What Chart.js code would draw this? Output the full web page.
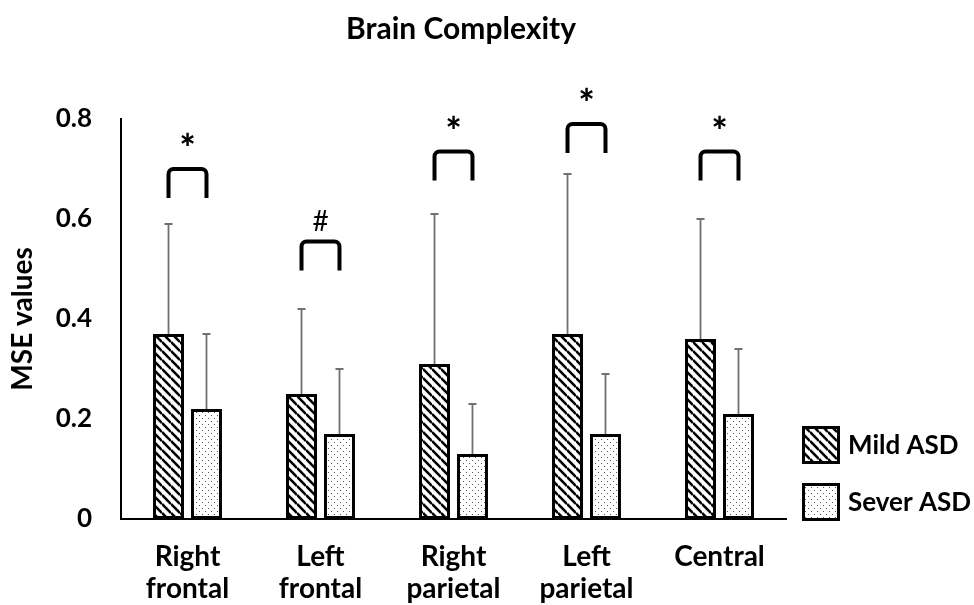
<!DOCTYPE html>
<html>
<head>
<meta charset="utf-8">
<script src="https://cdn.jsdelivr.net/npm/chart.js@4"></script>
<style>
  html, body { margin: 0; padding: 0; background: #fff; }
  #wrap { width: 974px; height: 605px; }
</style>
</head>
<body>
<div id="wrap"><canvas id="chart" width="974" height="605"></canvas></div>
<script>
// data
const categories = [["Right", "frontal"], ["Left", "frontal"], ["Right", "parietal"], ["Left", "parietal"], ["Central"]];
const seriesNames = ["Mild ASD", "Sever ASD"];
const mildValues = [0.37, 0.25, 0.31, 0.37, 0.36];
const severValues = [0.22, 0.17, 0.13, 0.17, 0.21];
const mildSD = [0.22, 0.17, 0.30, 0.32, 0.24];
const severSD = [0.15, 0.13, 0.10, 0.12, 0.13];
const bracketTops = [0.70, 0.555, 0.735, 0.79, 0.735];
const bracketLeg = 0.058;
const marks = ["*", "#", "*", "*", "*"];
const yTicks = [0, 0.2, 0.4, 0.6, 0.8];

const FONT = "Lato";

function hatchPattern() {
  const c = document.createElement("canvas");
  c.width = 9; c.height = 9;
  const g = c.getContext("2d");
  g.fillStyle = "#fff";
  g.fillRect(0, 0, 9, 9);
  g.strokeStyle = "#000";
  g.lineWidth = 2.6;
  for (const k of [-9, 0, 9]) {
    g.beginPath();
    g.moveTo(0, k);
    g.lineTo(9, 9 + k);
    g.stroke();
  }
  return g.createPattern(c, "repeat");
}

function dotPattern() {
  const c = document.createElement("canvas");
  c.width = 6; c.height = 6;
  const g = c.getContext("2d");
  g.fillStyle = "#fff";
  g.fillRect(0, 0, 6, 6);
  g.fillStyle = "#555";
  g.fillRect(1, 1, 1, 1);
  g.fillRect(4, 4, 1, 1);
  return g.createPattern(c, "repeat");
}

const fills = [hatchPattern(), dotPattern()];
const sds = [mildSD, severSD];

// error bars, brackets, marks and the legend
const extras = {
  id: "extras",
  afterDatasetsDraw(chart) {
    const ctx = chart.ctx;
    const y = chart.scales.y;
    ctx.save();
    // error bars (upper only)
    ctx.strokeStyle = "#707070";
    ctx.lineWidth = 1.8;
    [0, 1].forEach(function (d) {
      const meta = chart.getDatasetMeta(d);
      meta.data.forEach(function (bar, i) {
        const v = chart.data.datasets[d].data[i];
        const top = y.getPixelForValue(v + sds[d][i]);
        ctx.beginPath();
        ctx.moveTo(bar.x, bar.y);
        ctx.lineTo(bar.x, top);
        ctx.moveTo(bar.x - 4, top);
        ctx.lineTo(bar.x + 4, top);
        ctx.stroke();
      });
    });
    // brackets
    ctx.strokeStyle = "#000";
    ctx.lineWidth = 4;
    ctx.fillStyle = "#000";
    ctx.textAlign = "center";
    ctx.textBaseline = "middle";
    const m0 = chart.getDatasetMeta(0).data;
    const m1 = chart.getDatasetMeta(1).data;
    bracketTops.forEach(function (t, i) {
      const x1 = m0[i].x, x2 = m1[i].x;
      const yt = y.getPixelForValue(t);
      const yb = y.getPixelForValue(t - bracketLeg);
      const r = 5;
      ctx.beginPath();
      ctx.moveTo(x1, yb);
      ctx.lineTo(x1, yt + r);
      ctx.arcTo(x1, yt, x1 + r, yt, r);
      ctx.lineTo(x2 - r, yt);
      ctx.arcTo(x2, yt, x2, yt + r, r);
      ctx.lineTo(x2, yb);
      ctx.stroke();
      const xm = (x1 + x2) / 2;
      if (marks[i] === "*") {
        ctx.font = "900 38px " + FONT;
        ctx.fillText(marks[i], xm, yt - 19);
      } else {
        ctx.font = "28px " + FONT;
        ctx.fillText(marks[i], xm, yt - 20);
      }
    });
    ctx.restore();
  },
  afterDraw(chart) {
    const ctx = chart.ctx;
    const area = chart.chartArea;
    ctx.save();
    seriesNames.forEach(function (name, i) {
      const bx = area.right + 16;
      const by = area.bottom - 93 + i * 57;
      ctx.fillStyle = fills[i];
      ctx.fillRect(bx, by, 38, 38);
      ctx.strokeStyle = "#000";
      ctx.lineWidth = 3;
      ctx.strokeRect(bx + 1.5, by + 1.5, 35, 35);
      ctx.fillStyle = "#000";
      ctx.font = "bold 26px " + FONT;
      ctx.textAlign = "left";
      ctx.textBaseline = "middle";
      ctx.fillText(name, bx + 46, by + 20);
    });
    ctx.restore();
  }
};

new Chart(document.getElementById("chart"), {
  type: "bar",
  data: {
    labels: categories,
    datasets: [
      {
        label: seriesNames[0],
        data: mildValues,
        backgroundColor: fills[0],
        borderColor: "#000",
        borderWidth: 3,
        borderSkipped: false,
      },
      {
        label: seriesNames[1],
        data: severValues,
        backgroundColor: fills[1],
        borderColor: "#000",
        borderWidth: 3,
        borderSkipped: false,
      },
    ],
  },
  options: {
    responsive: false,
    animation: false,
    categoryPercentage: 0.571,
    barPercentage: 0.816,
    layout: { padding: { left: 0, right: 52, top: 0, bottom: 0 } },
    scales: {
      x: {
        grid: { display: false, drawTicks: false },
        border: { display: true, color: "#000", width: 2 },
        ticks: {
          color: "#000",
          padding: 22,
          maxRotation: 0,
          font: { family: FONT, size: 28, weight: "bold", lineHeight: 32 / 28 },
        },
        afterFit(scale) { scale.height = 86; },
      },
      y: {
        min: 0,
        max: 0.8,
        afterBuildTicks(scale) { scale.ticks = yTicks.map(function (v) { return { value: v }; }); },
        grid: { display: false, drawTicks: false },
        border: { display: true, color: "#000", width: 2 },
        ticks: {
          color: "#000",
          padding: 29,
          font: { family: FONT, size: 26, weight: "bold" },
        },
        title: {
          display: true,
          text: "MSE values",
          color: "#000",
          padding: { top: 6, bottom: 0 },
          font: { family: FONT, size: 28, weight: "bold" },
        },
        afterFit(scale) { scale.width = 121; },
      },
      // empty right-hand scale that only reserves room for the legend
      side: {
        position: "right",
        display: true,
        grid: { display: false, drawTicks: false },
        border: { display: false },
        ticks: { display: false },
        afterFit(scale) { scale.width = 136; },
      },
    },
    plugins: {
      legend: { display: false },
      tooltip: { enabled: false },
      title: {
        display: true,
        text: "Brain Complexity",
        color: "#000",
        padding: { top: 11, bottom: 72 },
        font: { family: FONT, size: 30, weight: "bold" },
      },
    },
  },
  plugins: [extras],
});
</script>
</body>
</html>
